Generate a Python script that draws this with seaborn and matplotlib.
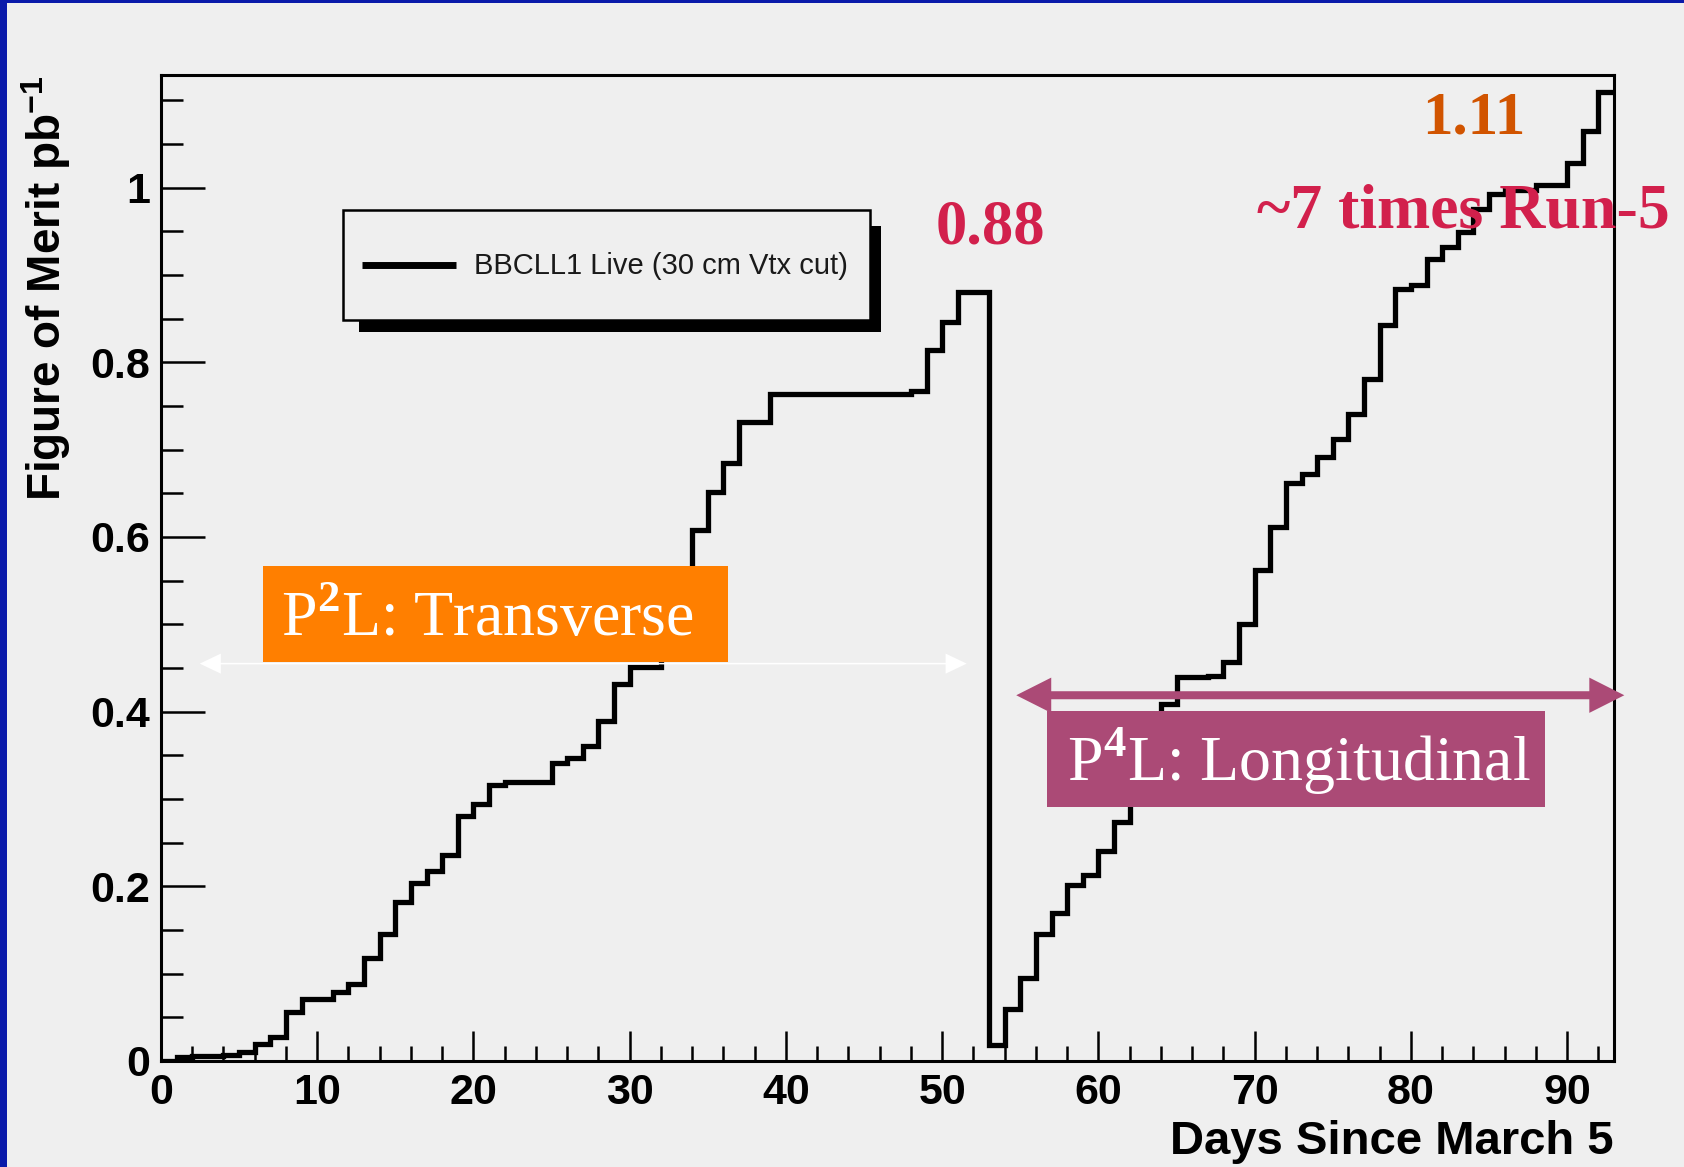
import numpy as np
import pandas as pd
import matplotlib
matplotlib.use("Agg")
import matplotlib.pyplot as plt
import seaborn as sns
from matplotlib.patches import Rectangle, Polygon
from matplotlib.lines import Line2D
from matplotlib.ticker import MultipleLocator

# Daily cumulative figure of merit (pb^-1), one bin per day since March 5
transverse_fom = [
    0.000, 0.005, 0.006, 0.006, 0.007, 0.010, 0.020, 0.028, 0.056, 0.071,
    0.071, 0.079, 0.088, 0.118, 0.145, 0.182, 0.204, 0.217, 0.236, 0.280,
    0.294, 0.316, 0.320, 0.320, 0.320, 0.341, 0.347, 0.361, 0.389, 0.432,
    0.451, 0.451, 0.500, 0.550, 0.608, 0.651, 0.685, 0.732, 0.732, 0.764,
    0.764, 0.764, 0.764, 0.764, 0.764, 0.764, 0.764, 0.764, 0.767, 0.814,
    0.846, 0.880, 0.880,
]
longitudinal_fom = [
    0.018, 0.059, 0.095, 0.145, 0.169, 0.201, 0.213, 0.241, 0.274, 0.320,
    0.370, 0.409, 0.440, 0.440, 0.441, 0.457, 0.500, 0.562, 0.612, 0.662,
    0.672, 0.692, 0.712, 0.741, 0.781, 0.843, 0.884, 0.889, 0.918, 0.932,
    0.949, 0.976, 0.993, 0.997, 0.997, 1.003, 1.003, 1.028, 1.065, 1.110,
]
fom = transverse_fom + longitudinal_fom
days = np.arange(len(fom))

x_ticks = [0, 10, 20, 30, 40, 50, 60, 70, 80, 90]
x_tick_labels = ["0", "10", "20", "30", "40", "50", "60", "70", "80", "90"]
y_ticks = [0.0, 0.2, 0.4, 0.6, 0.8, 1.0]
y_tick_labels = ["0", "0.2", "0.4", "0.6", "0.8", "1"]

series_label = "BBCLL1 Live (30 cm Vtx cut)"
peak_label = "0.88"
final_label = "1.11"
ratio_label = "~7 times Run-5"

BG = "#efefef"
BLUE = "#0a1aaa"
CRIMSON = "#d2204c"
BURNT = "#d15400"
ORANGE = "#ff7f00"
PLUM = "#ab4a76"

plt.rcParams["font.family"] = ["Liberation Sans", "DejaVu Sans"]
plt.rcParams["font.weight"] = "bold"
plt.rcParams["mathtext.fontset"] = "custom"
plt.rcParams["mathtext.rm"] = "Liberation Serif"
plt.rcParams["mathtext.bf"] = "Liberation Sans:bold"
plt.rcParams["lines.solid_joinstyle"] = "miter"

W, H = 1684, 1167
fig = plt.figure(figsize=(W / 100, H / 100), dpi=100, facecolor=BG)
ax = fig.add_axes([161 / W, 1 - 1061 / H, (1614 - 161) / W, (1061 - 75) / H])
ax.set_facecolor(BG)

df = pd.DataFrame({"day": days + 0.5, "fom": fom})
bin_edges = list(range(0, len(fom) + 1))
sns.histplot(data=df, x="day", weights="fom", bins=bin_edges,
             element="step", fill=False, color="black", linewidth=3.8,
             ax=ax, zorder=2)

ax.set_xlim(0, 93)
ax.set_ylim(0, 1.129)

ax.set_xticks(x_ticks)
ax.set_xticklabels(x_tick_labels)
ax.set_yticks(y_ticks)
ax.set_yticklabels(y_tick_labels)
ax.xaxis.set_minor_locator(MultipleLocator(2))
ax.yaxis.set_minor_locator(MultipleLocator(0.05))
ax.tick_params(which="both", direction="in", top=False, right=False, color="black")
ax.tick_params(axis="x", which="major", length=21.6, width=1.8, pad=9, labelsize=31)
ax.tick_params(axis="x", which="minor", length=10.8, width=1.8)
ax.tick_params(axis="y", which="major", length=31.7, width=1.8, pad=8, labelsize=31)
ax.tick_params(axis="y", which="minor", length=15.8, width=1.8)
for lab in ax.get_xticklabels() + ax.get_yticklabels():
    lab.set_fontweight("bold")
for sp in ax.spines.values():
    sp.set_linewidth(2.2)
    sp.set_color("black")

ax.set_xlabel("Days Since March 5", loc="right", fontsize=34, fontweight="bold")
ax.xaxis.set_label_coords(1.0, -0.060)
ax.set_ylabel(r"Figure of Merit pb$^{\mathbf{-1}}$", loc="top", fontsize=33,
              fontweight="bold")
ax.yaxis.set_label_coords(-0.0606, 1.0)


def fig_xy(x, y):
    return x / W, 1 - y / H


# legend box with drop shadow
shadow = Rectangle(fig_xy(359, 332), (881 - 359) / W, (332 - 226) / H,
                   transform=fig.transFigure, facecolor="black",
                   edgecolor="none", zorder=5)
frame = Rectangle(fig_xy(343, 320), (870 - 343) / W, (320 - 210) / H,
                  transform=fig.transFigure, facecolor=BG, edgecolor="black",
                  linewidth=1.8, zorder=6)
fig.add_artist(shadow)
fig.add_artist(frame)
hx0, hy = fig_xy(362, 265)
hx1, _ = fig_xy(456, 265)
fig.add_artist(Line2D([hx0, hx1], [hy, hy], color="black", linewidth=5,
                      solid_capstyle="butt", transform=fig.transFigure, zorder=7))
tx, ty = fig_xy(474, 266)
fig.text(tx, ty, series_label, fontsize=21, fontweight="normal", color="#1a1a1a",
         ha="left", va="center", zorder=7)


def double_arrow(x0, x1, y, shaft, head_w, head_l, color, zorder):
    """Horizontal two-headed arrow outline in data units."""
    s, h = shaft / 2, head_w / 2
    verts = [
        (x0, y), (x0 + head_l, y + h), (x0 + head_l, y + s),
        (x1 - head_l, y + s), (x1 - head_l, y + h), (x1, y),
        (x1 - head_l, y - h), (x1 - head_l, y - s),
        (x0 + head_l, y - s), (x0 + head_l, y - h),
    ]
    ax.add_patch(Polygon(verts, closed=True, facecolor=color,
                         edgecolor="none", zorder=zorder, clip_on=False))


# run period arrows
double_arrow(2.48, 51.57, 0.455, 0.0018, 0.023, 1.35, "white", 3)
double_arrow(54.74, 93.66, 0.4188, 0.0092, 0.0404, 2.24, PLUM, 4)

# period boxes
ax.add_patch(Rectangle((6.53, 0.4565), 36.31 - 6.53, 0.5663 - 0.4565,
                       facecolor=ORANGE, edgecolor="none", zorder=4))
ax.text(7.68, 0.487, r"P$^{2}$L: Transverse", color="white", fontsize=46,
        family="Liberation Serif", fontweight="normal", ha="left",
        va="baseline", zorder=5)
ax.add_patch(Rectangle((56.74, 0.2912), 88.56 - 56.74, 0.4002 - 0.2912,
                       facecolor=PLUM, edgecolor="none", zorder=4))
ax.text(57.97, 0.321, r"P$^{4}$L: Longitudinal", color="white", fontsize=46,
        family="Liberation Serif", fontweight="normal", ha="left",
        va="baseline", zorder=5)

# value annotations
ax.text(53.1, 0.936, peak_label, color=CRIMSON, fontsize=45, fontweight="bold",
        family="Liberation Serif", ha="center", va="baseline", zorder=6)
ax.text(84.05, 1.062, final_label, color=BURNT, fontsize=44, fontweight="bold",
        family="Liberation Serif", ha="center", va="baseline", zorder=6)
ax.text(70.15, 0.954, ratio_label, color=CRIMSON, fontsize=46, fontweight="bold",
        family="Liberation Serif", ha="left", va="baseline", zorder=6,
        clip_on=False)

# slide border
fig.add_artist(Rectangle((0, 0), 7 / W, 1, transform=fig.transFigure,
                         facecolor=BLUE, edgecolor="none", zorder=10))
fig.add_artist(Rectangle((0, 1 - 3 / H), 1, 3 / H, transform=fig.transFigure,
                         facecolor=BLUE, edgecolor="none", zorder=10))

fig.savefig("out.png", dpi=100, facecolor=BG)
